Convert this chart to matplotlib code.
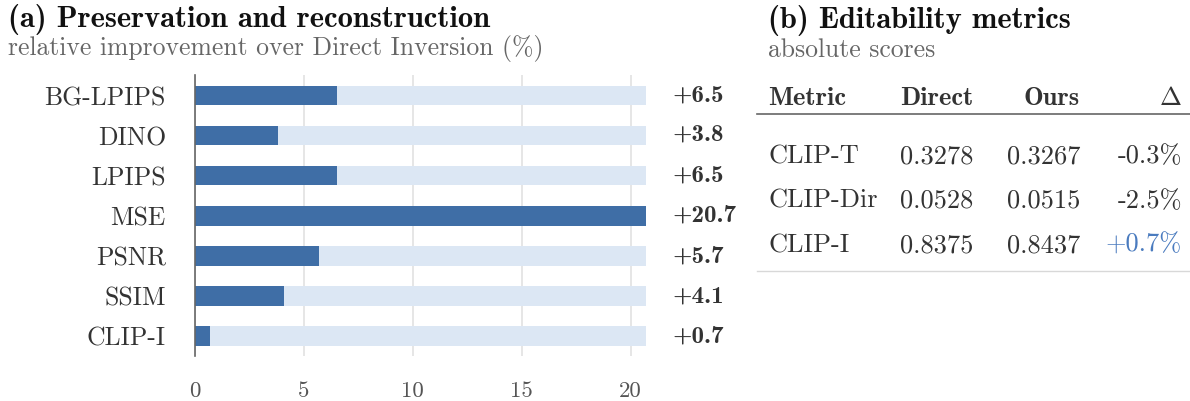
import matplotlib.pyplot as plt

# data
metrics = ['BG-LPIPS', 'DINO', 'LPIPS', 'MSE', 'PSNR', 'SSIM', 'CLIP-I']
gains = [6.5, 3.8, 6.5, 20.7, 5.7, 4.1, 0.7]
xticks = [0, 5, 10, 15, 20]

edit_metrics = ['CLIP-T', 'CLIP-Dir', 'CLIP-I']
direct = ['0.3278', '0.0528', '0.8375']
ours = ['0.3267', '0.0515', '0.8437']
delta = ['-0.3%', '-2.5%', '+0.7%']
headers = ['Metric', 'Direct', 'Ours', r'$\Delta$']

plt.rcParams['font.family'] = ['cmr10', 'DejaVu Serif']
plt.rcParams['mathtext.fontset'] = 'cm'
plt.rcParams['axes.unicode_minus'] = False

W, H = 1190, 401
fig = plt.figure(figsize=(W / 100, H / 100), dpi=100)

def fx(px):
    return px / W

def fy(py):
    return 1 - py / H

dark = '#3f6ea6'
light = '#dce7f4'
txt = '#333333'
grey = '#666666'
bold = ['cmb10', 'DejaVu Serif']

# (a) bar chart
ax = fig.add_axes([fx(195), fy(356), fx(646) - fx(195), fy(75) - fy(356)])
ypos = list(range(len(metrics)))
vmax = max(gains)
ax.barh(ypos, [vmax] * len(metrics), height=0.48, color=light, zorder=1)
ax.barh(ypos, gains, height=0.48, color=dark, zorder=2)
ax.set_xlim(0, vmax)
ax.set_ylim(len(metrics) - 0.5, -0.52)
ax.set_yticks(ypos)
ax.set_yticklabels(metrics, fontsize=18.5, color=txt)
ax.set_xticks(xticks)
ax.set_xticklabels([str(t) for t in xticks], fontsize=16.5, color='#555555')
ax.tick_params(axis='both', length=0)
ax.tick_params(axis='y', pad=21)
ax.tick_params(axis='x', pad=18)
for s in ['top', 'right', 'bottom']:
    ax.spines[s].set_visible(False)
ax.spines['left'].set_color('#666666')
ax.spines['left'].set_linewidth(1.2)
ax.grid(axis='x', color='#e2e2e2', linewidth=1.2, zorder=0)
ax.set_axisbelow(True)
for y, v in zip(ypos, gains):
    ax.annotate(f'+{v:.1f}', xy=(vmax, y), xytext=(19, 0), textcoords='offset points',
                ha='left', va='center', fontsize=18, family=bold, color=txt,
                annotation_clip=False)

fig.text(fx(8), fy(27), '(a) Preservation and reconstruction', family=bold,
         fontsize=22, color='#111111', va='baseline')
fig.text(fx(8), fy(55), 'relative improvement over Direct Inversion (%)',
         fontsize=18.5, color=grey, va='baseline')

# (b) table
fig.text(fx(768), fy(28), '(b) Editability metrics', family=bold,
         fontsize=22, color='#111111', va='baseline')
fig.text(fx(768), fy(57), 'absolute scores', fontsize=18.5, color=grey, va='baseline')

col_x = [768, 973, 1080, 1182]
col_ha = ['left', 'right', 'right', 'right']
for x, ha, h in zip(col_x, col_ha, headers):
    fig.text(fx(x), fy(105), h, family=bold, fontsize=19, color=txt, ha=ha, va='baseline')

fig.add_artist(plt.Line2D([fx(757), fx(1190)], [fy(114), fy(114)], color='#666666', linewidth=1.2))
fig.add_artist(plt.Line2D([fx(757), fx(1190)], [fy(271), fy(271)], color='#d8d8d8', linewidth=1.0))

row_y = [163, 208, 252]
for i, yb in enumerate(row_y):
    vals = [edit_metrics[i], direct[i], ours[i], delta[i]]
    for j, (x, ha, t) in enumerate(zip(col_x, col_ha, vals)):
        c = txt
        if j == 3 and t.startswith('+'):
            c = '#4a7bbf'
        fig.text(fx(x), fy(yb), t, fontsize=19, color=c, ha=ha, va='baseline')

fig.savefig('out.png', dpi=100)
